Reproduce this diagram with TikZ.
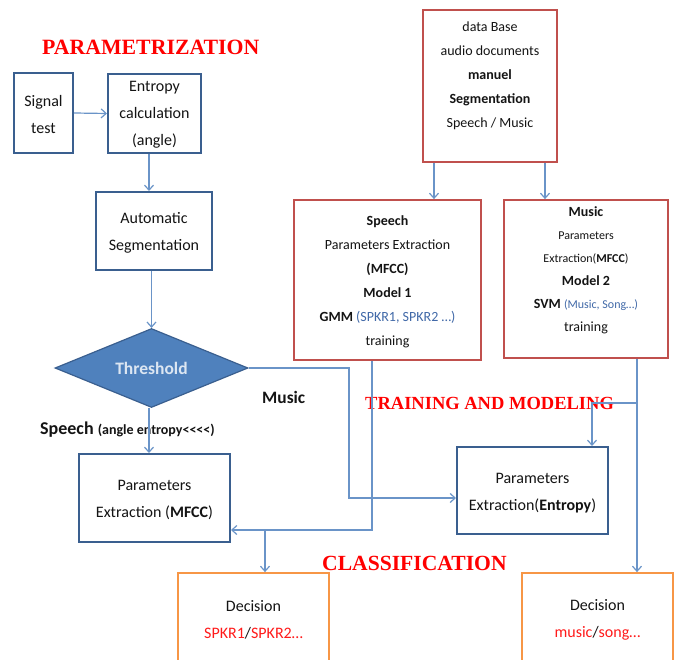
\documentclass[tikz,border=0pt]{standalone}
\usepackage{fontspec}
\setmainfont{Carlito}
\newfontfamily\titlefont{Liberation Serif}
\usetikzlibrary{shapes.geometric,arrows.meta}
\definecolor{bbord}{HTML}{3A5F8F}
\definecolor{rbord}{HTML}{C0504D}
\definecolor{obord}{HTML}{F79646}
\definecolor{arrc}{HTML}{6A94C8}
\definecolor{dfill}{HTML}{4F81BD}
\definecolor{dtext}{HTML}{DCE6F2}
\definecolor{tgray}{HTML}{141414}
\definecolor{tblue}{HTML}{4169A8}
\definecolor{tred}{HTML}{FF1A1A}
\tikzset{
  bluebox/.style={draw=bbord, line width=2pt, fill=white, inner sep=0pt},
  redbox/.style={draw=rbord, line width=1.8pt, fill=white, inner sep=0pt},
  orbox/.style={draw=obord, line width=1.8pt, fill=white, inner sep=0pt},
  tx16/.style={text=tgray, align=center, font=\fontsize{16}{27}\selectfont, inner sep=0pt},
  tx14/.style={text=tgray, align=center, font=\fontsize{14}{24}\selectfont, inner sep=0pt},
  ttl/.style={text=red, font=\titlefont\bfseries, inner sep=0pt, anchor=west},
  arr/.style={draw=arrc, line width=1.2pt, -{Straight Barb[length=5pt,width=9pt]}},
  ln/.style={draw=arrc, line width=1.2pt}
}
\begin{document}
\begin{tikzpicture}[x=1pt,y=-1pt]
\useasboundingbox[fill=white] (0,0) rectangle (677,660);
% titles
\node[ttl, font=\titlefont\bfseries\fontsize{21.8}{21.8}\selectfont] (t1) at (42,47) {PARAMETRIZATION};
\node[ttl, font=\titlefont\bfseries\fontsize{18.5}{18.5}\selectfont] (t2) at (365,403) {TRAINING AND MODELING};
\node[ttl, font=\titlefont\bfseries\fontsize{21.6}{21.6}\selectfont] (t3) at (322,563) {CLASSIFICATION};
% left column
\node[bluebox, minimum width=59pt, minimum height=80pt] (sig) at (43.5,113) {};
\node[tx16] (sigt) at (43.5,114.5) {Signal\\test};
\node[bluebox, minimum width=93pt, minimum height=79pt] (ent) at (154.5,113.5) {};
\node[tx16] (entt) at (154.5,114.5) {Entropy\\calculation\\(angle)};
\node[bluebox, minimum width=116pt, minimum height=78pt] (auto) at (154,231) {};
\node[tx16] (autot) at (154,233) {Automatic\\Segmentation};
\node[diamond, fill=dfill, draw=bbord, line width=1.2pt, minimum width=193pt, minimum height=79pt, inner sep=0pt, aspect=2.44] (thr) at (151.5,368) {};
\node[text=dtext, font=\bfseries\fontsize{17.5}{17.5}\selectfont, inner sep=0pt] (thrt) at (151.5,368) {Threshold};
\node[bluebox, minimum width=151pt, minimum height=88pt] (pmf) at (154.5,498) {};
\node[tx16] (pmft) at (154.5,500) {Parameters\\Extraction (\textbf{MFCC})};
\node[text=tgray, anchor=west, inner sep=0pt, font=\bfseries\fontsize{18}{18}\selectfont] (spl) at (40,430) {Speech \fontsize{14}{14}\selectfont(angle entropy<\kern0pt<\kern0pt<\kern0pt<)};
\node[text=tgray, anchor=west, inner sep=0pt, font=\bfseries\fontsize{17.4}{17.4}\selectfont] (mul) at (262,397) {Music};
% right column
\node[redbox, minimum width=134pt, minimum height=152pt] (db) at (490,86) {};
\node[tx14] (dbt) at (490,75.5) {data Base\\audio documents\\\textbf{manuel}\\\textbf{Segmentation}\\Speech / Music};
\node[redbox, minimum width=187pt, minimum height=160pt] (spm) at (387.5,280) {};
\node[tx14] (spmt) at (387.5,281.5) {\textbf{Speech}\\Parameters Extraction\\\textbf{(MFCC)}\\\textbf{Model 1}\\\textbf{GMM} {\color{tblue}(SPKR1, SPKR2 \ldots)}\\training};
\node[redbox, minimum width=164pt, minimum height=158pt] (mum) at (586,279) {};
\node[text=tgray, align=center, inner sep=0pt, font=\fontsize{14}{23}\selectfont] (mumt) at (586,270) {\textbf{Music}\\{\fontsize{12}{12}\selectfont Parameters}\\{\fontsize{12}{12}\selectfont Extraction(\textbf{MFCC})}\\\textbf{Model 2}\\\textbf{SVM} {\fontsize{12}{12}\selectfont\color{tblue}(Music, Song\ldots)}\\training};
\node[bluebox, minimum width=151pt, minimum height=87pt] (pent) at (532.5,490.5) {};
\node[tx16] (pentt) at (532.5,493) {Parameters\\Extraction(\textbf{Entropy})};
\node[orbox, minimum width=151pt, minimum height=90pt] (dec1) at (253.5,618) {};
\node[tx16] (dec1t) at (253.5,619.5) {Decision\\{\color{tred}SPKR1}/{\color{tred}SPKR2\ldots}};
\node[orbox, minimum width=151pt, minimum height=90pt] (dec2) at (597.5,618) {};
\node[tx16] (dec2t) at (597.5,619.5) {Decision\\{\color{tred}music}/{\color{tred}song\ldots}};
% junction coordinates
\coordinate (jm) at (349,368);
\coordinate (js) at (372,530);
\coordinate (jb) at (265,530);
\coordinate (jt) at (637,403);
\coordinate (jp) at (592,403);
\coordinate (da) at (434,0);
\coordinate (dbx) at (545,0);
\coordinate (pw) at ([yshift=-7.5pt]pent.west);
\coordinate (es) at ([xshift=-5.5pt]ent.south);
\coordinate (ts) at ([xshift=-2.5pt]thr.south);
% connectors
\draw[arr] (sig.east) -- (ent.west);
\draw[arr] (es) -- (es |- auto.north);
\draw[arr] (auto.south -| thr.north) -- (thr.north);
\draw[arr] (ts) -- (ts |- pmf.north);
\draw[arr] (thr.east) -- (jm) -- (jm |- pw) -- (pw);
\draw[arr] (js |- spm.south) -- (js) -- (js -| pmf.east);
\draw[arr] (jb) -- (jb |- dec1.north);
\draw[arr] (jt |- mum.south) -- (jt |- dec2.north);
\draw[arr] (jt) -- (jp) -- (jp |- pent.north);
\draw[arr] (da |- db.south) -- (da |- spm.north);
\draw[arr] (dbx |- db.south) -- (dbx |- mum.north);
\end{tikzpicture}
\end{document}
